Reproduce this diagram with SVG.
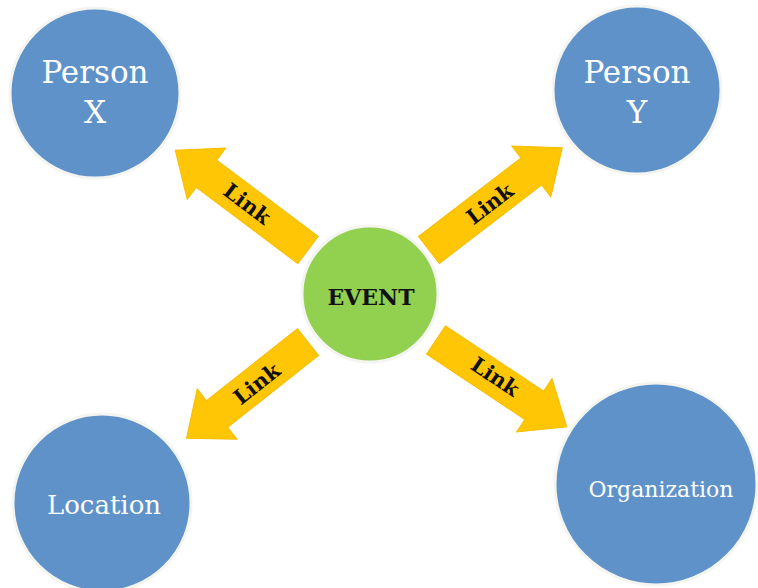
<svg xmlns="http://www.w3.org/2000/svg" width="758" height="588" viewBox="0 0 758 588">
<style>
.blue{fill:#5e92c9;stroke:#f4f4f0;stroke-width:3}
.green{fill:#92d050;stroke:#f4f4f0;stroke-width:3}
.arrow{fill:#ffc605;stroke:#f7bd00;stroke-width:1}
.wt{font-family:"DejaVu Serif","Liberation Serif",serif;fill:#ffffff;text-anchor:middle}
.bt{font-family:"DejaVu Serif","Liberation Serif",serif;font-weight:bold;fill:#111111;text-anchor:middle}
</style>
<rect width="758" height="588" fill="#ffffff"/>
<g id="connectors">
  <g id="link-person-x">
    <polygon class="arrow" transform="translate(308,250) rotate(216.9)" points="0,-17 127,-17 127,-32 166,0 127,32 127,17 0,17"/>
    <text class="bt" font-size="21" transform="translate(247,204) rotate(36.9)" x="0" y="7">Link</text>
  </g>
  <g id="link-person-y">
    <polygon class="arrow" transform="translate(429,250) rotate(-37.5)" points="0,-17 129,-17 129,-32 168,0 129,32 129,17 0,17"/>
    <text class="bt" font-size="21" transform="translate(490,204) rotate(-37.5)" x="0" y="7">Link</text>
  </g>
  <g id="link-location">
    <polygon class="arrow" transform="translate(308,342) rotate(141.6)" points="0,-17 116,-17 116,-32 155,0 116,32 116,17 0,17"/>
    <text class="bt" font-size="21" transform="translate(257,384) rotate(-38.4)" x="0" y="7">Link</text>
  </g>
  <g id="link-organization">
    <polygon class="arrow" transform="translate(436,340) rotate(33.6)" points="0,-17 118,-17 118,-32 157,0 118,32 118,17 0,17"/>
    <text class="bt" font-size="21" transform="translate(495,377) rotate(33.6)" x="0" y="7">Link</text>
  </g>
</g>
<g id="node-event">
  <circle class="green" cx="370" cy="294" r="68"/>
  <text class="bt" font-size="22" x="371" y="305">EVENT</text>
</g>
<g id="node-person-x">
  <circle class="blue" cx="95" cy="93" r="85"/>
  <text class="wt" font-size="31" x="95" y="83">Person</text>
  <text class="wt" font-size="31" x="95" y="123">X</text>
</g>
<g id="node-person-y">
  <circle class="blue" cx="637" cy="90" r="84"/>
  <text class="wt" font-size="31" x="637" y="83">Person</text>
  <text class="wt" font-size="31" x="637" y="123">Y</text>
</g>
<g id="node-location">
  <circle class="blue" cx="102" cy="503" r="89"/>
  <text class="wt" font-size="26" x="104" y="514">Location</text>
</g>
<g id="node-organization">
  <circle class="blue" cx="656" cy="484" r="101"/>
  <text class="wt" font-size="22" x="661" y="497">Organization</text>
</g>
</svg>
